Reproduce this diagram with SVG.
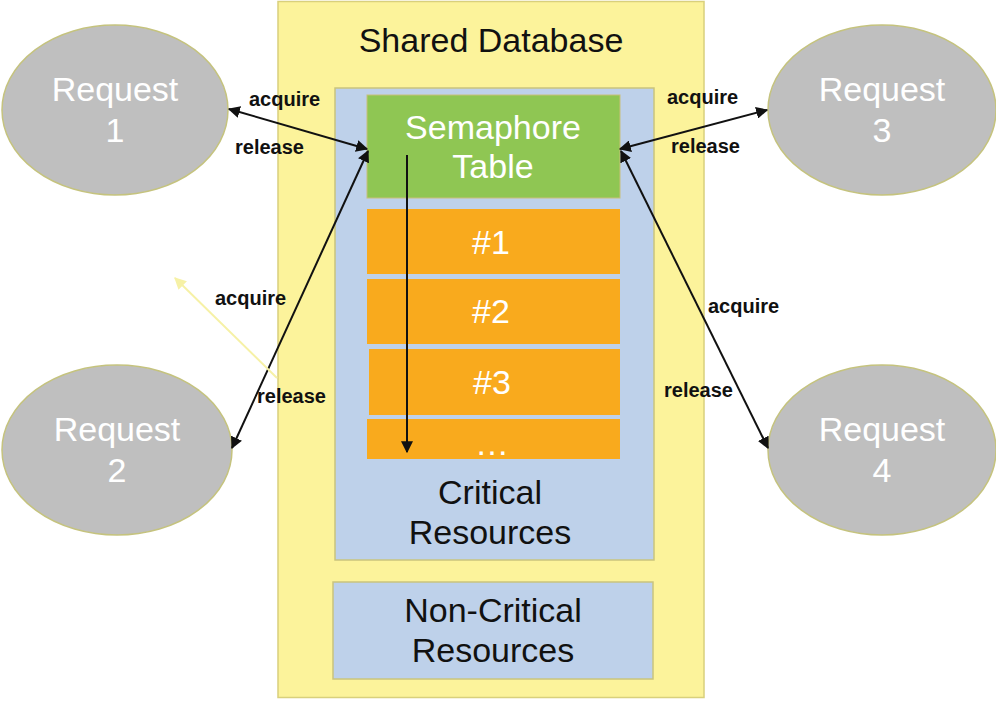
<svg xmlns="http://www.w3.org/2000/svg" width="996" height="701" viewBox="0 0 996 701">
<style>
.req{fill:#bfbfbf;stroke:#c5c37e;stroke-width:1.5}
.big{font-family:"Liberation Sans",Arial,sans-serif;font-size:34px;text-anchor:middle}
.w{fill:#ffffff}
.k{fill:#111111}
.lbl{font-family:"Liberation Sans",Arial,sans-serif;font-size:20px;font-weight:bold;fill:#111111}
.con{stroke:#111111;stroke-width:2;fill:none}
</style>
<defs>
<marker id="ah" viewBox="0 0 10 10" refX="9" refY="5" markerWidth="6" markerHeight="6" orient="auto-start-reverse" markerUnits="strokeWidth">
<path d="M0,0 L10,5 L0,10 z" fill="#111111"/>
</marker>
<marker id="ahy" viewBox="0 0 10 10" refX="9" refY="5" markerWidth="6" markerHeight="6" orient="auto" markerUnits="strokeWidth">
<path d="M0,0 L10,5 L0,10 z" fill="#f6f1a6"/>
</marker>
</defs>
<rect width="996" height="701" fill="#ffffff"/>
<g id="shared-database">
<rect x="278" y="1.5" width="426" height="696" fill="#fcf39b" stroke="#d9d07c" stroke-width="1.5"/>
<text class="big k" x="491" y="52">Shared Database</text>
</g>
<g id="critical-resources">
<rect x="335" y="88" width="319" height="472" fill="#bed1ea" stroke="#c9c47e" stroke-width="1.5"/>
<text class="big k" x="490" y="504">Critical</text>
<text class="big k" x="490" y="544">Resources</text>
</g>
<g id="semaphore-table">
<rect x="367" y="95" width="253" height="103" fill="#8fc653" stroke="#c8c07a" stroke-width="1"/>
<text class="big w" x="493" y="139">Semaphore</text>
<text class="big w" x="493" y="178">Table</text>
</g>
<g id="row1">
<rect x="367" y="209" width="253" height="65" fill="#f9aa1d"/>
<text class="big w" x="491" y="254">#1</text>
</g>
<g id="row2">
<rect x="367" y="279" width="253" height="65" fill="#f9aa1d"/>
<text class="big w" x="491" y="323">#2</text>
</g>
<g id="row3">
<rect x="369" y="349" width="251" height="66" fill="#f9aa1d"/>
<text class="big w" x="492" y="394">#3</text>
</g>
<g id="row-more">
<rect x="367" y="419" width="253" height="40" fill="#f9aa1d"/>
<text class="big w" x="492" y="455">…</text>
</g>
<g id="non-critical-resources">
<rect x="333" y="582" width="320" height="97" fill="#bed1ea" stroke="#c9c47e" stroke-width="1.5"/>
<text class="big k" x="493" y="622">Non-Critical</text>
<text class="big k" x="493" y="662">Resources</text>
</g>
<g id="request1">
<ellipse class="req" cx="115" cy="110" rx="113" ry="85"/>
<text class="big w" x="115" y="101">Request</text>
<text class="big w" x="115" y="142">1</text>
</g>
<g id="request2">
<ellipse class="req" cx="117" cy="450" rx="115" ry="85"/>
<text class="big w" x="117" y="441">Request</text>
<text class="big w" x="117" y="482">2</text>
</g>
<g id="request3">
<ellipse class="req" cx="882" cy="110" rx="114" ry="85"/>
<text class="big w" x="882" y="101">Request</text>
<text class="big w" x="882" y="142">3</text>
</g>
<g id="request4">
<ellipse class="req" cx="882" cy="450" rx="114" ry="85"/>
<text class="big w" x="882" y="441">Request</text>
<text class="big w" x="882" y="482">4</text>
</g>
<g id="connectors">
<line class="con" x1="229" y1="109" x2="367" y2="149" marker-start="url(#ah)" marker-end="url(#ah)"/>
<line class="con" x1="368" y1="151" x2="232" y2="448" marker-start="url(#ah)" marker-end="url(#ah)"/>
<line class="con" x1="767" y1="110" x2="620" y2="149" marker-start="url(#ah)" marker-end="url(#ah)"/>
<line class="con" x1="621" y1="151" x2="768" y2="448" marker-start="url(#ah)" marker-end="url(#ah)"/>
<line class="con" x1="407" y1="155" x2="407" y2="452" marker-end="url(#ah)"/>
<line x1="277" y1="378" x2="175" y2="278" stroke="#f6f1a6" stroke-width="2" marker-end="url(#ahy)"/>
<text class="lbl" x="249" y="106">acquire</text>
<text class="lbl" x="235" y="154">release</text>
<text class="lbl" x="667" y="104">acquire</text>
<text class="lbl" x="671" y="153">release</text>
<text class="lbl" x="215" y="305">acquire</text>
<text class="lbl" x="257" y="403">release</text>
<text class="lbl" x="708" y="313">acquire</text>
<text class="lbl" x="664" y="397">release</text>
</g>
</svg>
